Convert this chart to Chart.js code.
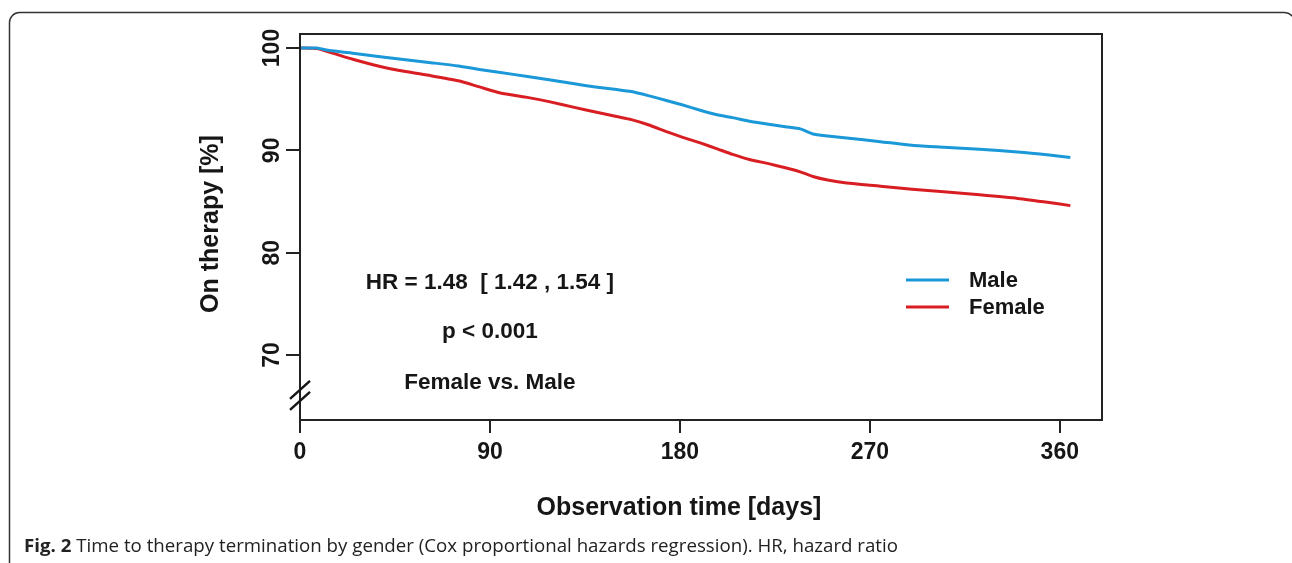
<!DOCTYPE html>
<html>
<head>
<meta charset="utf-8">
<script src="https://cdn.jsdelivr.net/npm/chart.js@4.4.1/dist/chart.umd.min.js"></script>
<style>
  html, body { margin: 0; padding: 0; background: #fff; }
  #chart { display: block; }
</style>
</head>
<body>
<canvas id="chart" width="1292" height="563"></canvas>
<script>
// Kaplan-Meier style curves (days, % still on therapy)
const days = [0, 8, 14, 25, 38, 50, 62, 75, 85, 95, 107, 118, 130, 140, 150, 157, 165, 174, 181, 190,
  197, 205, 213, 222, 230, 237, 243, 250, 259, 275, 290, 305, 322, 340, 355, 365];
const male = [100, 100, 99.75, 99.5, 99.15, 98.85, 98.57, 98.25, 97.9, 97.6, 97.25, 96.9, 96.5, 96.2, 95.95, 95.75,
  95.35, 94.85, 94.45, 93.9, 93.5, 93.2, 92.85, 92.55, 92.3, 92.1, 91.6, 91.4, 91.2, 90.85, 90.5, 90.3,
  90.1, 89.85, 89.55, 89.3];
const female = [100, 99.95, 99.6, 98.9, 98.2, 97.7, 97.3, 96.8, 96.2, 95.6, 95.2, 94.76, 94.2, 93.75, 93.3, 93.0,
  92.5, 91.8, 91.3, 90.7, 90.2, 89.6, 89.1, 88.7, 88.3, 87.9, 87.45, 87.1, 86.8, 86.5, 86.2, 85.95,
  85.65, 85.3, 84.9, 84.6];

const xTicks = [0, 90, 180, 270, 360];
const yTicks = [70, 80, 90, 100];
const seriesNames = ['Male', 'Female'];
const seriesColors = ['#1b98d8', '#d81e22'];
const notes = ['HR = 1.48  [ 1.42 , 1.54 ]', 'p < 0.001', 'Female vs. Male'];
const noteY = [77.05, 72.25, 67.3];
const breakAt = 66.1;

const bold = size => 'bold ' + size + 'px "Liberation Sans", Arial, sans-serif';
const ink = '#161616';

const decor = {
  id: 'decor',
  beforeDraw(chart) {
    const ctx = chart.ctx;
    ctx.save();
    ctx.fillStyle = '#fff';
    ctx.fillRect(0, 0, chart.width, chart.height);
    // figure frame
    ctx.strokeStyle = '#333';
    ctx.lineWidth = 1.5;
    ctx.beginPath();
    ctx.roundRect(9.5, 12.5, 1285, 620, 10);
    ctx.stroke();
    ctx.restore();
  },
  afterDraw(chart) {
    const ctx = chart.ctx;
    const a = chart.chartArea;
    const xs = chart.scales.x, ys = chart.scales.y;
    ctx.save();
    // plot box
    ctx.strokeStyle = '#222';
    ctx.lineWidth = 2;
    ctx.strokeRect(a.left, a.top, a.right - a.left, a.bottom - a.top);

    // rotated y tick labels
    ctx.fillStyle = ink;
    ctx.font = bold(23);
    ctx.textAlign = 'center';
    ctx.textBaseline = 'middle';
    yTicks.forEach(v => {
      ctx.save();
      ctx.translate(273, ys.getPixelForValue(v));
      ctx.rotate(-Math.PI / 2);
      ctx.fillText(String(v), 0, 0);
      ctx.restore();
    });

    // axis titles
    ctx.font = bold(25);
    ctx.save();
    ctx.translate(211, 224);
    ctx.rotate(-Math.PI / 2);
    ctx.fillText('On therapy [%]', 0, 0);
    ctx.restore();
    ctx.fillText('Observation time [days]', 679, 508);

    // axis break marks
    const by = ys.getPixelForValue(breakAt);
    ctx.lineWidth = 2.5;
    ctx.strokeStyle = ink;
    [-5, 6].forEach(off => {
      ctx.beginPath();
      ctx.moveTo(a.left - 10, by + off + 9);
      ctx.lineTo(a.left + 10, by + off - 9);
      ctx.stroke();
    });

    // annotation text
    ctx.font = bold(22.5);
    notes.forEach((t, i) => {
      ctx.fillText(t, xs.getPixelForValue(90), ys.getPixelForValue(noteY[i]));
    });

    // legend
    ctx.font = bold(22);
    ctx.textAlign = 'left';
    chart.data.datasets.forEach((ds, i) => {
      const y = 280 + i * 27;
      ctx.strokeStyle = ds.borderColor;
      ctx.lineWidth = 3;
      ctx.beginPath();
      ctx.moveTo(906, y);
      ctx.lineTo(949, y);
      ctx.stroke();
      ctx.fillStyle = ink;
      ctx.fillText(ds.label, 969, y + 1);
    });

    // caption
    const lead = 'Fig. 2';
    const rest = ' Time to therapy termination by gender (Cox proportional hazards regression). HR, hazard ratio';
    ctx.textBaseline = 'alphabetic';
    ctx.font = 'bold 18px "Open Sans", sans-serif';
    const w1 = ctx.measureText(lead).width;
    ctx.font = '18px "Open Sans", sans-serif';
    const w2 = ctx.measureText(rest).width;
    const k = (898 - 24) / (w1 + w2);
    ctx.save();
    ctx.translate(24, 552);
    ctx.scale(k, 1);
    ctx.fillStyle = '#222';
    ctx.font = 'bold 18px "Open Sans", sans-serif';
    ctx.fillText(lead, 0, 0);
    ctx.font = '18px "Open Sans", sans-serif';
    ctx.fillText(rest, w1, 0);
    ctx.restore();

    ctx.restore();
  }
};

new Chart(document.getElementById('chart'), {
  type: 'line',
  data: {
    datasets: [male, female].map((vals, i) => ({
      label: seriesNames[i],
      data: days.map((d, j) => ({ x: d, y: vals[j] })),
      borderColor: seriesColors[i],
      borderWidth: 3,
      pointRadius: 0,
      tension: 0.2,
      fill: false
    }))
  },
  options: {
    responsive: false,
    animation: false,
    devicePixelRatio: 1,
    layout: { padding: { left: 0, top: 34, right: 190, bottom: 0 } },
    plugins: { legend: { display: false }, tooltip: { enabled: false } },
    scales: {
      x: {
        type: 'linear',
        min: 0,
        max: 380,
        afterBuildTicks: s => { s.ticks = xTicks.map(v => ({ value: v })); },
        afterFit: s => { s.height = 143; },
        grid: { drawOnChartArea: false, drawTicks: true, tickLength: 13, color: '#222', lineWidth: 2 },
        border: { display: true, color: '#222', width: 2 },
        ticks: { color: ink, font: { family: '"Liberation Sans", Arial, sans-serif', size: 23, weight: 'bold' }, padding: 6, maxRotation: 0, autoSkip: false }
      },
      y: {
        type: 'linear',
        min: 63.65,
        max: 101.37,
        afterBuildTicks: s => { s.ticks = yTicks.map(v => ({ value: v })); },
        afterFit: s => { s.width = 300; },
        grid: { drawOnChartArea: false, drawTicks: true, tickLength: 14, color: '#222', lineWidth: 2 },
        border: { display: true, color: '#222', width: 2 },
        ticks: { display: false }
      }
    }
  },
  plugins: [decor]
});
</script>
</body>
</html>
